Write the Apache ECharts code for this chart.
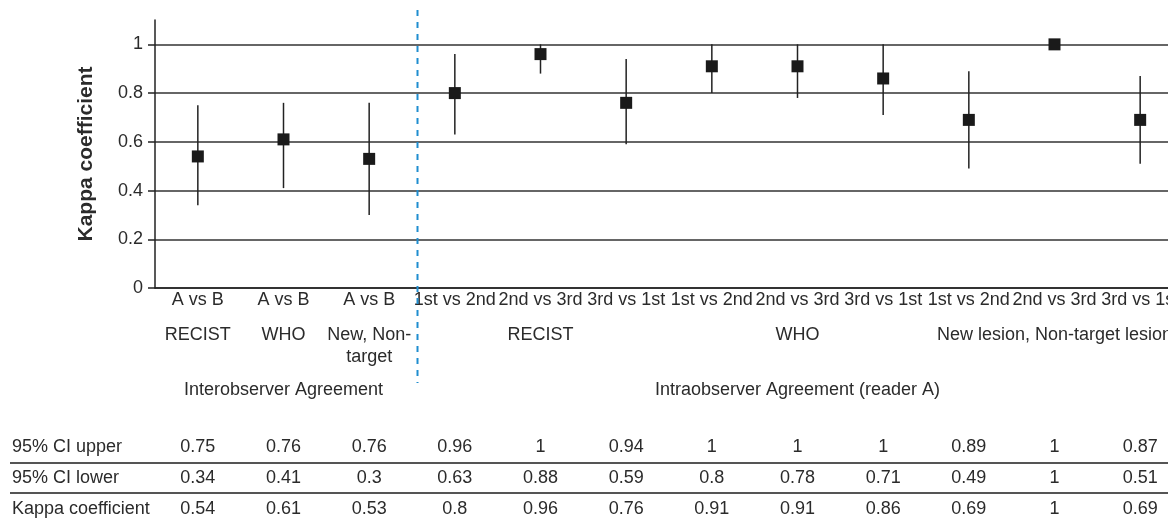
<!DOCTYPE html>
<html>
<head>
<meta charset="utf-8">
<title>Kappa coefficient</title>
<script src="https://cdn.jsdelivr.net/npm/echarts@6/dist/echarts.min.js"></script>
<style>
	html, body { margin: 0; padding: 0; background: #fff; }
	#kappaChart { width: 1168px; height: 521px; }
</style>
</head>
<body>
<div id="kappaChart"></div>
<script>
// 横坐标：比较项
var comparisons = ['A vs B', 'A vs B', 'A vs B', '1st vs 2nd', '2nd vs 3rd', '3rd vs 1st', '1st vs 2nd', '2nd vs 3rd', '3rd vs 1st', '1st vs 2nd', '2nd vs 3rd', '3rd vs 1st'];
// 第二行：评价标准
var methodLabels = ['RECIST', 'WHO', 'New, Non-\ntarget', '', 'RECIST', '', '', 'WHO', '', '', 'New lesion, Non-target lesion', ''];
// 第三行：一致性类型
var agreementLabels = ['', 'Interobserver Agreement', '', '', '', '', '', 'Intraobserver Agreement (reader A)', '', '', '', ''];
// 数据
var kappaValues = [0.54, 0.61, 0.53, 0.8, 0.96, 0.76, 0.91, 0.91, 0.86, 0.69, 1, 0.69];
var ciLower = [0.34, 0.41, 0.3, 0.63, 0.88, 0.59, 0.8, 0.78, 0.71, 0.49, 1, 0.51];
var ciUpper = [0.75, 0.76, 0.76, 0.96, 1, 0.94, 1, 1, 1, 0.89, 1, 0.87];
// 纵坐标刻度
var yTicks = [0, 0.2, 0.4, 0.6, 0.8, 1];
// 表格行（自下而上）
var tableRows = ['Kappa coefficient', '95% CI lower', '95% CI upper'];
var tableData = [kappaValues, ciLower, ciUpper];

var textColor = '#2b2b2b';
var fontFamily = '"Liberation Sans", Arial, sans-serif';
var labelSize = 18;
var myChart;

onReady(function() {
	myChart = echarts.init(document.getElementById('kappaChart'));
	myChart.setOption(buildOption());
});

function onReady(fn) {
	if (document.readyState !== 'loading') fn();
	else document.addEventListener('DOMContentLoaded', fn);
}

// 坐标轴文字（不显示轴线）
function labelAxis(data, offset) {
	return {
		type : 'category',
		gridIndex : 0,
		position : 'bottom',
		offset : offset,
		data : data,
		axisLine : { show : false },
		axisTick : { show : false },
		axisLabel : {
			interval : 0,
			margin : 0,
			color : textColor,
			fontSize : labelSize,
			lineHeight : 22,
			fontFamily : fontFamily
		}
	};
}

function buildOption() {
	var tablePoints = [];
	for (var r = 0; r < tableData.length; r++) {
		for (var i = 0; i < comparisons.length; i++) {
			tablePoints.push([i, r, tableData[r][i]]);
		}
	}
	var barData = [];
	var pointData = [];
	for (var j = 0; j < comparisons.length; j++) {
		barData.push([j, ciLower[j], ciUpper[j]]);
		pointData.push([j, kappaValues[j]]);
	}
	return {
		animation : false,
		textStyle : { fontFamily : fontFamily },
		grid : [{
			left : 155,
			width : 1028,
			top : 20,
			height : 268,
			outerBoundsMode : 'none'
		}, {
			left : 155,
			width : 1028,
			top : 432,
			height : 92,
			outerBoundsMode : 'none'
		}],
		xAxis : [{
			type : 'category',
			gridIndex : 0,
			data : comparisons,
			axisLine : { lineStyle : { color : '#222', width : 1.5 } },
			axisTick : { show : false },
			axisLabel : {
				interval : 0,
				margin : 2,
				lineHeight : 20,
				color : textColor,
				fontSize : labelSize,
				fontFamily : fontFamily
			}
		}, labelAxis(methodLabels, 36), labelAxis(agreementLabels, 91), {
			type : 'category',
			gridIndex : 1,
			data : comparisons,
			show : false
		}],
		yAxis : [{
			type : 'value',
			gridIndex : 0,
			min : 0,
			max : 1.1,
			interval : 0.2,
			name : 'Kappa coefficient',
			nameLocation : 'middle',
			nameGap : 58,
			nameTextStyle : {
				fontSize : 21,
				fontWeight : 'bold',
				color : textColor,
				fontFamily : fontFamily
			},
			axisLine : { show : true, lineStyle : { color : '#222', width : 1.5 } },
			axisTick : { show : true, length : 7, customValues : yTicks, lineStyle : { color : '#222', width : 1.5 } },
			axisLabel : {
				customValues : yTicks,
				margin : 12,
				fontSize : 18,
				color : textColor,
				fontFamily : fontFamily
			},
			splitLine : { show : true, lineStyle : { color : '#333', width : 1.5 } }
		}, {
			type : 'category',
			gridIndex : 1,
			data : tableRows,
			axisLine : { show : false },
			axisTick : { show : false },
			splitLine : { show : false },
			axisLabel : {
				align : 'left',
				margin : 143,
				fontSize : labelSize,
				color : textColor,
				fontFamily : fontFamily
			}
		}],
		series : [{
			// 置信区间
			type : 'custom',
			xAxisIndex : 0,
			yAxisIndex : 0,
			data : barData,
			renderItem : function(params, api) {
				var p1 = api.coord([api.value(0), api.value(1)]);
				var p2 = api.coord([api.value(0), api.value(2)]);
				return {
					type : 'line',
					shape : { x1 : p1[0], y1 : p1[1], x2 : p2[0], y2 : p2[1] },
					style : { stroke : '#222', lineWidth : 1.5 }
				};
			},
			z : 3
		}, {
			// Kappa 值
			type : 'scatter',
			xAxisIndex : 0,
			yAxisIndex : 0,
			symbol : 'rect',
			symbolSize : 12,
			itemStyle : { color : '#1a1a1a', opacity : 1 },
			data : pointData,
			z : 4
		}, {
			// 数据表格
			type : 'scatter',
			xAxisIndex : 3,
			yAxisIndex : 1,
			symbolSize : 1,
			itemStyle : { color : 'transparent', opacity : 1 },
			label : {
				show : true,
				position : 'inside',
				fontSize : labelSize,
				color : textColor,
				fontFamily : fontFamily,
				formatter : function(p) {
					return String(p.value[2]);
				}
			},
			data : tablePoints
		}],
		graphic : [{
			// 分隔虚线
			type : 'line',
			shape : { x1 : 417.5, y1 : 10, x2 : 417.5, y2 : 383 },
			style : { stroke : '#1f8dd0', lineWidth : 2, lineDash : [6, 6] },
			z : 10
		}, {
			type : 'line',
			shape : { x1 : 10, y1 : 463, x2 : 1168, y2 : 463 },
			style : { stroke : '#555', lineWidth : 2 }
		}, {
			type : 'line',
			shape : { x1 : 10, y1 : 493, x2 : 1168, y2 : 493 },
			style : { stroke : '#555', lineWidth : 2 }
		}]
	};
}
</script>
</body>
</html>
